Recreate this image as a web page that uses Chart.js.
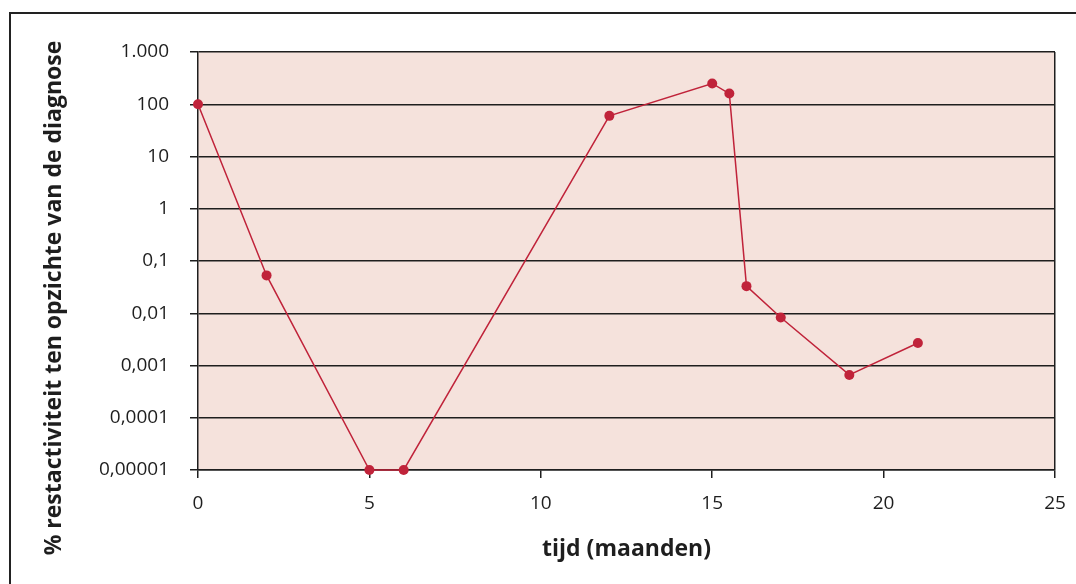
<!DOCTYPE html>
<html>
<head>
<meta charset="utf-8">
<script src="https://cdn.jsdelivr.net/npm/chart.js@4"></script>
<style>
  html, body { margin: 0; padding: 0; background: #fff; }
  #wrap { position: relative; width: 1076px; height: 584px; overflow: hidden; }
  #frame { position: absolute; left: 9px; top: 12px; width: 1100px; height: 600px; border: 2px solid #222; }
  canvas { position: absolute; left: 0; top: 0; }
</style>
</head>
<body>
<div id="wrap">
  <div id="frame"></div>
  <canvas id="chart" width="1076" height="584"></canvas>
</div>
<script>
// tijd in maanden en % restactiviteit
const months = [0, 2, 5, 6, 12, 15, 15.5, 16, 17, 19, 21];
const activity = [100, 0.053, 0.00001, 0.00001, 60, 250, 160, 0.033, 0.0083, 0.00066, 0.0027];

const yTickValues = [0.00001, 0.0001, 0.001, 0.01, 0.1, 1, 10, 100, 1000];
const yTickLabels = ['0,00001', '0,0001', '0,001', '0,01', '0,1', '1', '10', '100', '1.000'];
const xTickValues = [0, 5, 10, 15, 20, 25];

const yTitle = '% restactiviteit ten opzichte van de diagnose';

const red = '#c0233a';
const ink = '#1e1e1e';

const plotBackground = {
  id: 'plotBackground',
  beforeDraw(chart) {
    const a = chart.chartArea;
    const ctx = chart.ctx;
    ctx.save();
    ctx.fillStyle = '#f5e2dc';
    ctx.fillRect(a.left, a.top, a.right - a.left, a.bottom - a.top);
    ctx.restore();
  }
};

// the y title sits centred on the whole frame, not on the plot area
const sideTitle = {
  id: 'sideTitle',
  afterDraw(chart) {
    const ctx = chart.ctx;
    ctx.save();
    ctx.translate(54, 298);
    ctx.rotate(-Math.PI / 2);
    ctx.font = 'bold 23px "Open Sans"';
    ctx.fillStyle = ink;
    ctx.textAlign = 'center';
    ctx.textBaseline = 'middle';
    ctx.fillText(yTitle, 0, 0);
    ctx.restore();
  }
};

new Chart(document.getElementById('chart').getContext('2d'), {
  type: 'line',
  data: {
    datasets: [{
      data: months.map((m, i) => ({ x: m, y: activity[i] })),
      borderColor: red,
      backgroundColor: red,
      borderWidth: 1.5,
      pointRadius: 5,
      pointBorderWidth: 0,
      tension: 0,
      clip: false
    }]
  },
  plugins: [plotBackground, sideTitle],
  options: {
    responsive: false,
    animation: false,
    layout: { padding: { top: 52, right: 21, bottom: 0, left: 0 } },
    plugins: { legend: { display: false }, tooltip: { enabled: false } },
    scales: {
      x: {
        type: 'linear',
        min: 0,
        max: 25,
        afterBuildTicks(scale) { scale.ticks = xTickValues.map(v => ({ value: v })); },
        afterFit(scale) {
          scale.height = 114;
          scale.paddingLeft = 0;
          scale.paddingRight = 0;
        },
        border: { display: true, color: ink, width: 1.5 },
        grid: {
          drawOnChartArea: true,
          color: ctx => (ctx.tick && ctx.tick.value === 25 ? ink : 'rgba(0,0,0,0)'),
          tickColor: ink,
          lineWidth: 1.5,
          tickLength: 8
        },
        ticks: {
          color: ink,
          padding: 14,
          maxRotation: 0,
          font: { family: 'Open Sans', size: 19 }
        },
        title: {
          display: true,
          text: 'tijd (maanden)',
          color: ink,
          padding: { top: 0, bottom: 21 },
          font: { family: 'Open Sans', size: 23, weight: 'bold' }
        }
      },
      y: {
        type: 'logarithmic',
        min: 0.00001,
        max: 1000,
        afterBuildTicks(scale) { scale.ticks = yTickValues.map(v => ({ value: v })); },
        afterFit(scale) {
          scale.width = 198;
          scale.paddingTop = 0;
          scale.paddingBottom = 0;
        },
        border: { display: true, color: ink, width: 1.5 },
        grid: {
          color: ink,
          lineWidth: 1.5,
          tickLength: 8
        },
        ticks: {
          color: ink,
          padding: 21,
          font: { family: 'Open Sans', size: 19 },
          callback: (v, i) => yTickLabels[i]
        }
      }
    }
  }
});
</script>
</body>
</html>
